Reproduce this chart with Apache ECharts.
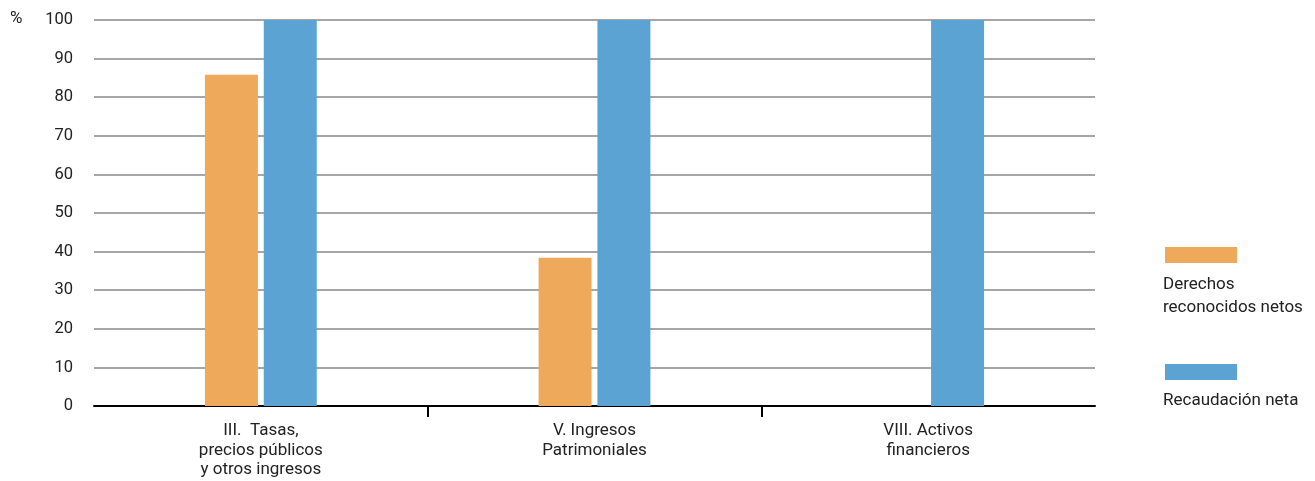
<!DOCTYPE html>
<html><head><meta charset="utf-8">
<script src="https://cdn.jsdelivr.net/npm/echarts@6/dist/echarts.min.js"></script>
<style>html,body{margin:0;padding:0;background:#fff}#c{width:1315px;height:481px}</style>
</head><body><div id="c"></div>
<script>
const categories = ['III.  Tasas,\nprecios públicos\ny otros ingresos', 'V. Ingresos\nPatrimoniales', 'VIII. Activos\nfinancieros'];
const derechos = [85.8, 38.4, null];
const recaudacion = [100, 100, 100];
const seriesNames = ['Derechos reconocidos netos', 'Recaudación neta'];
const legendLabels = ['Derechos\nreconocidos netos', 'Recaudación neta'];
const yTicks = {min: 0, max: 100, interval: 10};
const unitLabel = '%';

const FONT = 'Roboto';
const chart = echarts.init(document.getElementById('c'), null, {renderer: 'canvas'});
chart.setOption({
  animation: false,
  textStyle: {fontFamily: FONT},
  grid: {left: 94, right: 220, top: 20, bottom: 75, containLabel: false},
  xAxis: [{
    type: 'category', data: categories,
    axisLine: {lineStyle: {color: '#000', width: 2}},
    axisTick: {show: false},
    axisLabel: {color: '#222', fontSize: 17, lineHeight: 19.5, margin: 15, fontFamily: FONT, interval: 0}
  }, {
    type: 'value', position: 'bottom', min: 0, max: categories.length,
    axisLine: {show: false}, splitLine: {show: false},
    axisLabel: {show: false},
    axisTick: {show: true, inside: false, length: 11, lineStyle: {color: '#000', width: 2},
      customValues: [1, 2]}
  }],
  yAxis: {
    type: 'value', min: yTicks.min, max: yTicks.max, interval: yTicks.interval,
    axisLine: {show: false}, axisTick: {show: false},
    axisLabel: {color: '#222', fontSize: 16.5, margin: 21, fontFamily: FONT},
    splitLine: {lineStyle: {color: '#a6a6a6', width: 2}}
  },
  legend: [{
    data: [seriesNames[0]], left: 1165, top: 247, itemWidth: 72, itemHeight: 16,
    icon: 'rect', formatter: () => '', itemGap: 0, padding: 0, selectedMode: false
  }, {
    data: [seriesNames[1]], left: 1165, top: 364, itemWidth: 72, itemHeight: 16,
    icon: 'rect', formatter: () => '', itemGap: 0, padding: 0, selectedMode: false
  }],
  graphic: [
    {type: 'text', left: 10, top: 10, style: {text: unitLabel, fontSize: 17, fill: '#222', fontFamily: FONT}},
    {type: 'text', left: 1163, top: 273, style: {text: legendLabels[0], fontSize: 17, lineHeight: 23, fill: '#222', fontFamily: FONT}},
    {type: 'text', left: 1163, top: 389, style: {text: legendLabels[1], fontSize: 17, lineHeight: 23, fill: '#222', fontFamily: FONT}}
  ],
  series: [{
    name: seriesNames[0], type: 'bar', data: derechos, barWidth: 53, barGap: '11%',
    itemStyle: {color: '#eea95a'}
  }, {
    name: seriesNames[1], type: 'bar', data: recaudacion, barWidth: 53,
    itemStyle: {color: '#5ba3d3'}
  }]
});
</script></body></html>
